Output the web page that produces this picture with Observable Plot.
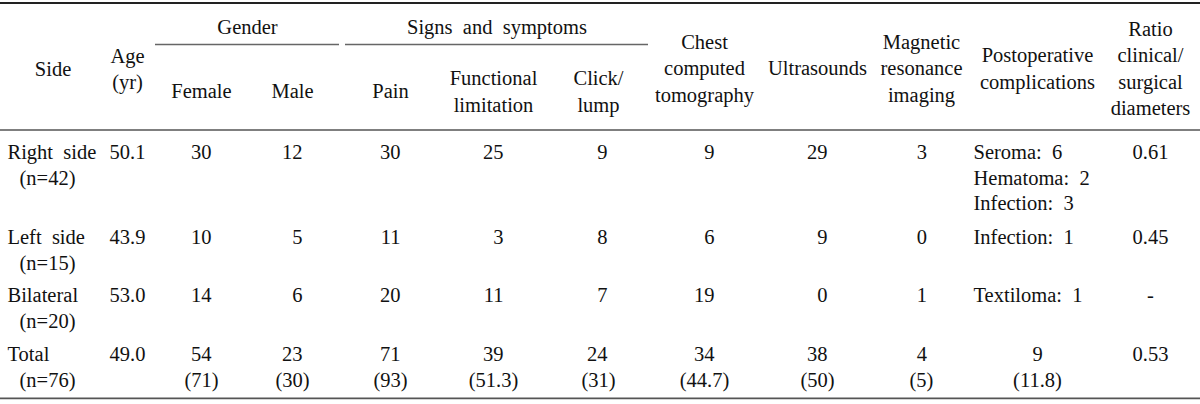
<!DOCTYPE html>
<html><head><meta charset="utf-8">
<script src="https://cdn.jsdelivr.net/npm/d3@7"></script>
<script src="https://cdn.jsdelivr.net/npm/@observablehq/plot@0.6"></script>
<style>body{margin:0;background:#fff} svg{display:block} svg text{font-family:"Liberation Serif","Times New Roman","DejaVu Serif",serif !important}</style>
</head><body><div id="chart"></div>
<script>
// ---- data ----
const sides = ["Right\u00a0 side", "Left\u00a0 side", "Bilateral", "Total"];
const sideN = ["(n=42)", "(n=15)", "(n=20)", "(n=76)"];
const age = ["50.1", "43.9", "53.0", "49.0"];
const female = [30, 10, 14, 54];
const male = [12, 5, 6, 23];
const pain = [30, 11, 20, 71];
const functional = [25, 3, 11, 39];
const click = [9, 8, 7, 24];
const chestCT = [9, 6, 19, 34];
const ultrasounds = [29, 9, 0, 38];
const mri = [3, 0, 1, 4];
const postop = [["Seroma:\u00a0 6", "Hematoma:\u00a0 2", "Infection:\u00a0 3"], ["Infection:\u00a0 1"], ["Textiloma:\u00a0 1"]];
const postopTotal = ["9", "(11.8)"];
const ratio = ["0.61", "0.45", "-", "0.53"];
const totalPercent = ["(71)", "(30)", "(93)", "(51.3)", "(31)", "(44.7)", "(50)", "(5)"];
const groupHeaders = ["Gender", "Signs\u00a0 and\u00a0 symptoms"];
const headers = {
  side: "Side", age: "Age\n(yr)", female: "Female", male: "Male", pain: "Pain",
  functional: "Functional\nlimitation", click: "Click/\nlump", chest: "Chest\ncomputed\ntomography",
  ultrasounds: "Ultrasounds", mri: "Magnetic\nresonance\nimaging", postop: "Postoperative\ncomplications",
  ratio: "Ratio\nclinical/\nsurgical\ndiameters"
};

// ---- layout ----
const W = 1200, H = 404, FONT = 20.5, LINE = 26, HLINE = 26.5;
const col = {side: 52.5, age: 127, female: 201, male: 292, pain: 390, functional: 493, click: 598,
  chest: 704, ultrasounds: 817, mri: 921, postop: 1037, ratio: 1150};
const numRight = {female: 211, male: 302, pain: 400, functional: 503, click: 607, chest: 714, ultrasounds: 827, mri: 926.5};
const sideX = 7, sideNX = 19, postopX = 973;
const headerY = {side: 67.5, age: 67, female: 89, male: 89, pain: 89, functional: 89.4, click: 89.4,
  chest: 66.5, ultrasounds: 66.5, mri: 66.5, postop: 66.5, ratio: 66.5};
const groupSpans = [[155, 339], [345, 648]];
const groupY = 25, groupRuleY = 44, topY = 2.5, headRuleY = 129.5, bottomY = 397.8;
const rowY = [152, 236.5, 295, 353.5];

const start = [], middle = [], end = [], headerCells = [];
for (const k in headers) headerCells.push({x: col[k], y: headerY[k], text: headers[k]});
groupHeaders.forEach((t, i) => headerCells.push({x: (groupSpans[i][0] + groupSpans[i][1]) / 2, y: groupY, text: t}));
const numCols = [["female", female], ["male", male], ["pain", pain], ["functional", functional],
  ["click", click], ["chest", chestCT], ["ultrasounds", ultrasounds], ["mri", mri]];
sides.forEach((s, i) => {
  const y = rowY[i];
  start.push({x: sideX, y, text: s});
  start.push({x: sideNX, y: y + LINE, text: sideN[i]});
  middle.push({x: col.age, y, text: age[i]});
  numCols.forEach(([k, arr]) => end.push({x: numRight[k], y, text: String(arr[i])}));
  middle.push({x: col.ratio, y, text: ratio[i]});
  if (i < 3) postop[i].forEach((t, j) => start.push({x: postopX, y: y + j * 25.7, text: t}));
});
numCols.forEach(([k], j) => middle.push({x: col[k], y: rowY[3] + LINE, text: totalPercent[j]}));
middle.push({x: col.postop, y: rowY[3], text: postopTotal[0]});
middle.push({x: col.postop, y: rowY[3] + LINE, text: postopTotal[1]});

const textOpts = {x: "x", y: "y", text: "text", fontSize: FONT, fontFamily: "Liberation Serif", fill: "#111"};
const rules = [
  {x1: 0, x2: W, y: topY, w: 2.2, c: "#222"},
  {x1: 0, x2: W, y: headRuleY, w: 1.6, c: "#555"},
  {x1: 0, x2: W, y: bottomY, w: 1.8, c: "#555"},
  ...groupSpans.map(([a, b]) => ({x1: a, x2: b, y: groupRuleY, w: 1.5, c: "#666"}))
];

const chart = Plot.plot({
  width: W, height: H, margin: 0, axis: null,
  style: {fontFamily: "Liberation Serif"},
  x: {domain: [0, W], range: [0, W]},
  y: {domain: [0, H], range: [0, H]},
  marks: [
    Plot.ruleY(rules, {x1: "x1", x2: "x2", y: "y", strokeWidth: d => d.w, stroke: d => d.c}),
    Plot.text(headerCells, {...textOpts, textAnchor: "middle", lineHeight: HLINE / FONT}),
    Plot.text(start, {...textOpts, textAnchor: "start"}),
    Plot.text(middle, {...textOpts, textAnchor: "middle"}),
    Plot.text(end, {...textOpts, textAnchor: "end"})
  ]
});
document.getElementById("chart").append(chart);
</script></body></html>
